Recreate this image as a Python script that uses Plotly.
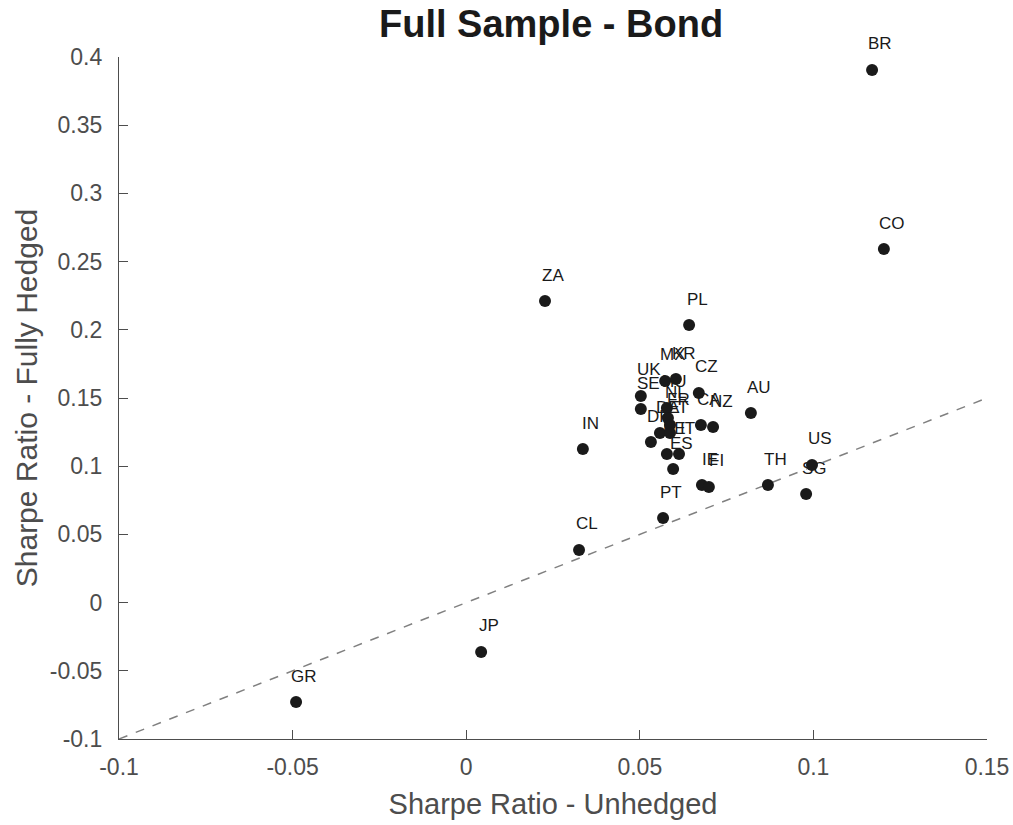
import plotly.graph_objects as go

# =====================
# Data
# =====================
countries = ["BR", "CO", "ZA", "PL", "IN", "CL", "JP", "GR", "PT", "TH",
             "SG", "US", "AU", "IE", "FI", "CZ", "CA", "NZ", "MX", "KR",
             "UK", "SE", "HU", "NL", "FR", "DE", "AT", "DK", "BE", "IT", "ES"]
unhedged = [0.1169, 0.1203, 0.0227, 0.0642, 0.0336, 0.0325, 0.0043, -0.0490, 0.0567, 0.0869,
            0.0979, 0.0996, 0.0820, 0.0679, 0.0699, 0.0670, 0.0676, 0.0711, 0.0573, 0.0604,
            0.0503, 0.0503, 0.0578, 0.0581, 0.0587, 0.0558, 0.0587, 0.0532, 0.0578, 0.0613, 0.0596]
hedged = [0.3905, 0.2592, 0.2211, 0.2035, 0.1126, 0.0386, -0.0362, -0.0729, 0.0620, 0.0862,
          0.0796, 0.1009, 0.1390, 0.0862, 0.0848, 0.1537, 0.1302, 0.1287, 0.1625, 0.1639,
          0.1515, 0.1419, 0.1427, 0.1353, 0.1302, 0.1243, 0.1243, 0.1177, 0.1089, 0.1089, 0.0979]

diag = [-0.1, 0.15]
x_ticks = [-0.1, -0.05, 0, 0.05, 0.1, 0.15]
y_ticks = [-0.1, -0.05, 0, 0.05, 0.1, 0.15, 0.2, 0.25, 0.3, 0.35, 0.4]

font = "Liberation Sans, Arial, sans-serif"
grey = "#4d4d4d"

fig = go.Figure()

# 45-degree reference line
fig.add_trace(go.Scatter(
    x=diag, y=diag, mode="lines",
    line=dict(color="#808080", width=1.5, dash="dash"),
    hoverinfo="skip", showlegend=False, cliponaxis=False,
))

fig.add_trace(go.Scatter(
    x=unhedged, y=hedged, mode="markers",
    marker=dict(color="#1a1a1a", size=12),
    text=countries, showlegend=False,
))

# country labels, above-right of each dot
for c, xv, yv in zip(countries, unhedged, hedged):
    fig.add_annotation(
        x=xv, y=yv, text=c, showarrow=False,
        xshift=8, yshift=26,
        font=dict(family=font, size=17, color="#1a1a1a"),
    )

axis_common = dict(
    showgrid=False, zeroline=False, automargin=False,
    showline=True, linecolor="#4d4d4d", linewidth=1.2,
    ticks="inside", ticklen=9, tickcolor="#4d4d4d", tickwidth=1.2,
    tickfont=dict(family=font, size=23, color=grey),
    mirror=False,
)

fig.update_xaxes(
    range=[-0.1, 0.15], tickvals=x_ticks,
    ticktext=[f"{v:g}" for v in x_ticks],
    ticklabelstandoff=7,
    title=dict(text="Sharpe Ratio - Unhedged", font=dict(family=font, size=29, color=grey), standoff=14),
    **axis_common,
)
fig.update_yaxes(
    range=[-0.1, 0.4], tickvals=y_ticks,
    ticktext=[f"{v:g}" for v in y_ticks],
    ticklabelstandoff=11,
    title=dict(text="Sharpe Ratio - Fully Hedged", font=dict(family=font, size=30, color=grey), standoff=3),
    **axis_common,
)

fig.update_layout(
    width=1013, height=825,
    margin=dict(l=119, r=26, t=57, b=86, autoexpand=False),
    plot_bgcolor="white", paper_bgcolor="white",
    title=dict(
        text="<b>Full Sample - Bond</b>",
        x=0.544, xanchor="center", y=0.987, yanchor="top",
        font=dict(family=font, size=38, color="#1a1a1a"),
    ),
)

# drop the page's default body margin so the figure sits at the top-left corner
fig.write_html(
    "out.html",
    config={"displayModeBar": False},
    post_script="document.body.style.margin = '0';",
)
